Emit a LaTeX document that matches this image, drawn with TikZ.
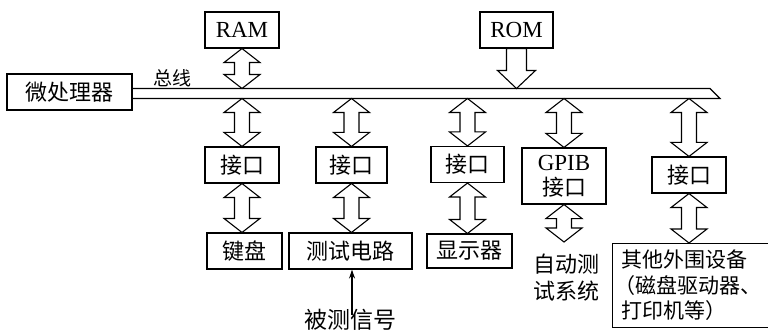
\documentclass[tikz,border=0pt]{standalone}
\usepackage{fontspec}
\setmainfont{Liberation Serif}
\newfontfamily\cjk{Noto Sans CJK SC}
\usetikzlibrary{arrows.meta,calc}
\newcommand{\dblarr}[2]{%
  \draw[hollow] let \p1=(#1), \p2=(#2) in
   (\x1,\y1) -- ({\x1+18pt},{\y1-14pt}) -- ({\x1+7.5pt},{\y1-14pt}) -- ({\x1+7.5pt},{\y2+14pt})
   -- ({\x1+18pt},{\y2+14pt}) -- (\x1,\y2) -- ({\x1-18pt},{\y2+14pt}) -- ({\x1-7.5pt},{\y2+14pt})
   -- ({\x1-7.5pt},{\y1-14pt}) -- ({\x1-18pt},{\y1-14pt}) -- cycle;}
\newcommand{\sglarr}[2]{%
  \draw[hollow] let \p1=(#1), \p2=(#2) in
   ({\x1-10pt},\y1) -- ({\x1+10pt},\y1) -- ({\x1+10pt},{\y2+18pt}) -- ({\x1+19pt},{\y2+18pt})
   -- (\x1,\y2) -- ({\x1-19pt},{\y2+18pt}) -- ({\x1-10pt},{\y2+18pt}) -- cycle;}
\begin{document}
\begin{tikzpicture}[x=1pt,y=-1pt,
  box/.style={draw, line width=1.1pt, inner sep=0pt, minimum height=36pt},
  zh/.style={font=\cjk\fontsize{22}{26}\selectfont},
  en/.style={font=\rmfamily\fontsize{23}{26}\selectfont},
  hollow/.style={draw, line width=1.1pt, fill=white, line join=miter}]
\useasboundingbox (0,0) rectangle (768,331);

% nodes
\node[box, zh, minimum width=125pt] (cpu) at (69.5,92) {微处理器};
\node[box, en, minimum width=74pt] (ram) at (242,30) {RAM};
\node[box, en, minimum width=73pt] (rom) at (516.5,30) {ROM};
\node[box, zh, minimum width=74pt] (if1) at (242,165) {接口};
\node[box, zh, minimum width=71pt] (if2) at (351.5,165) {接口};
\node[box, zh, minimum width=73pt] (if3) at (467.5,164.5) {接口};
\node[box, minimum width=84pt, minimum height=56pt, align=center, font=\fontsize{22}{25}\selectfont] (gpib) at (564,176)
  {{\rmfamily\fontsize{23}{25}\selectfont GPIB}\\{\cjk 接口}};
\node[box, zh, minimum width=74pt] (if5) at (689,175) {接口};
\node[box, zh, minimum width=75pt] (kb) at (244.5,251) {键盘};
\node[box, zh, minimum width=123pt] (test) at (350.5,251) {测试电路};
\node[box, zh, minimum width=85pt, minimum height=34pt] (disp) at (469.5,251) {显示器};
\node[zh, align=center, font=\cjk\fontsize{22}{27}\selectfont, inner sep=0pt] (auto) at (566,278) {自动测\\试系统};
\node[draw, line width=1.1pt, anchor=north west, minimum width=160pt, minimum height=84pt,
  text width=152pt, align=left, inner sep=0pt, font=\cjk\fontsize{21}{25.5}\selectfont] (other) at (612,243)
  {\hspace*{5pt}其他外围设备\\\hspace*{-2pt}（磁盘驱动器、\\\hspace*{5pt}打印机等）};
\node[zh, inner sep=0pt] (bus) at (172,78) {\fontsize{19}{22}\selectfont 总线};
\node[inner sep=0pt, font=\cjk\fontsize{23}{26}\selectfont] (sig) at (350,320) {被测信号};

% bus
\coordinate (busTop) at (0,88.5);
\coordinate (busBot) at (0,98.5);
\coordinate (autoTop) at (563,242);
\draw[line width=1.1pt, line join=miter] (cpu.east |- busTop) -- (710,88.5) -- (720,98.5) -- (cpu.east |- busBot);

% arrows
\dblarr{ram.south}{ram.south |- busTop}
\sglarr{rom.south}{rom.south |- busTop}
\dblarr{if1.north |- busBot}{if1.north}
\dblarr{if2.north |- busBot}{if2.north}
\dblarr{if3.north |- busBot}{if3.north}
\dblarr{gpib.north |- busBot}{gpib.north}
\dblarr{if5.north |- busBot}{if5.north}
\dblarr{if1.south}{if1.south |- kb.north}
\dblarr{if2.south}{if2.south |- test.north}
\dblarr{if3.south}{if3.south |- disp.north}
\dblarr{gpib.south}{autoTop}
\dblarr{if5.south}{if5.south |- other.north}
\draw[line width=1.1pt, -{Stealth[length=9pt,width=6pt]}] ([xshift=2pt,yshift=-6pt]sig.north) -- ([xshift=2pt]sig.north |- test.south);
\end{tikzpicture}
\end{document}
